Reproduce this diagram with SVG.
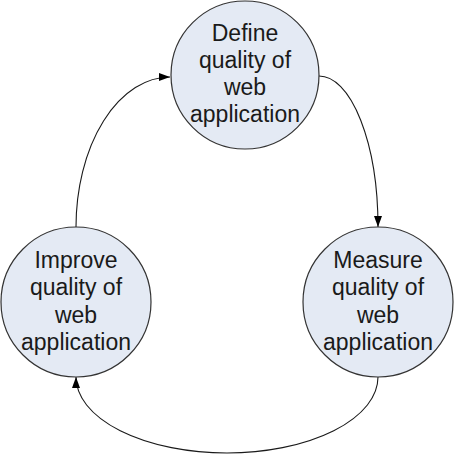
<svg xmlns="http://www.w3.org/2000/svg" width="454" height="454" viewBox="0 0 454 454">
  <style>
    .node circle { fill: #E4EAF4; stroke: #333333; stroke-width: 1.2; }
    .node text { font-family: "Liberation Sans", Arial, sans-serif; font-size: 23px; fill: #1a1a1a; text-anchor: middle; }
    .conn path { fill: none; stroke: #1a1a1a; stroke-width: 1.1; marker-end: url(#arrow); }
  </style>
  <defs>
    <marker id="arrow" markerUnits="userSpaceOnUse" markerWidth="11" markerHeight="8" refX="11" refY="4" orient="auto">
      <path d="M0,0 L11,4 L0,8 z" fill="#000000"/>
    </marker>
  </defs>
  <rect width="454" height="454" fill="#ffffff"/>
  <g class="conn" id="connectors">
    <path d="M76,227 A94,150 0 0 1 170,77"/>
    <path d="M319,76 A59,151 0 0 1 378,227"/>
    <path d="M378,377 A151,76 0 0 1 76,377"/>
  </g>
  <g class="node" id="define">
    <circle cx="245" cy="75" r="74"/>
    <text x="245" y="41">Define</text>
    <text x="245" y="68">quality of</text>
    <text x="245" y="95">web</text>
    <text x="245" y="122">application</text>
  </g>
  <g class="node" id="improve">
    <circle cx="76" cy="302" r="75"/>
    <text x="76" y="268">Improve</text>
    <text x="76" y="295">quality of</text>
    <text x="76" y="323">web</text>
    <text x="76" y="350">application</text>
  </g>
  <g class="node" id="measure">
    <circle cx="378" cy="302" r="75"/>
    <text x="378" y="268">Measure</text>
    <text x="378" y="295">quality of</text>
    <text x="378" y="323">web</text>
    <text x="378" y="350">application</text>
  </g>
</svg>
